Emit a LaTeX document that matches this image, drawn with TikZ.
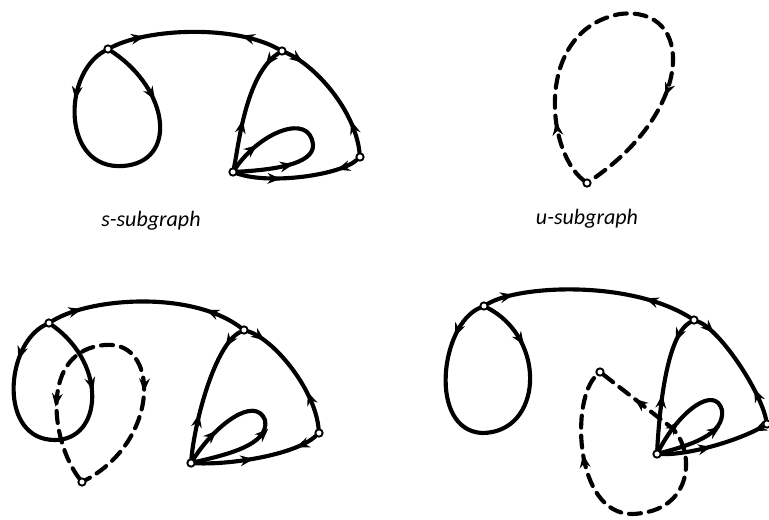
\documentclass[tikz,border=0pt]{standalone}
\usepackage{fontspec}
\setmainfont{Carlito}
\usetikzlibrary{arrows.meta,decorations.markings}
\pgfdeclarelayer{bg}
\pgfsetlayers{bg,main}
\tikzset{
  edge/.style={line width=3.1pt, line cap=round, line join=round},
  dsh/.style={edge, dash pattern=on 9pt off 6pt},
  af/.style={postaction={decorate,decoration={markings,
     mark=at position #1 with {\arrow[solid]{Stealth[length=10pt,width=8pt]}}}}},
  ab/.style={postaction={decorate,decoration={markings,
     mark=at position #1 with {\arrow[solid]{Stealth[length=10pt,width=8pt,reversed]}}}}},
  vtx/.style={circle, draw, fill=white, line width=1.4pt, inner sep=0pt, minimum size=5.5pt},
  lbl/.style={font=\fontsize{16.5}{20}\selectfont\itshape, inner sep=0pt}
}
\begin{document}
\begin{tikzpicture}[x=0.75pt,y=-0.75pt]
\useasboundingbox (0,0) rectangle (769,519);

% ---------- top-left: s-subgraph ----------
\node[vtx] (A1) at (108,49) {};
\node[vtx] (B1) at (282,51) {};
\node[vtx] (C1) at (233,172) {};
\node[vtx] (D1) at (360,157) {};
% ---------- top-right: u-subgraph ----------
\node[vtx] (U1) at (587,183) {};
% ---------- bottom-left ----------
\node[vtx] (A2) at (49,323) {};
\node[vtx] (B2) at (244,330) {};
\node[vtx] (C2) at (191,463) {};
\node[vtx] (D2) at (319,433) {};
\node[vtx] (U2) at (82,482) {};
% ---------- bottom-right ----------
\node[vtx] (A3) at (484,306) {};
\node[vtx] (B3) at (694,320) {};
\node[vtx] (C3) at (657,454) {};
\node[vtx] (D3) at (767,424) {};
\node[vtx] (U3) at (600,372) {};

\node[lbl, anchor=base] (sl) at (151,226) {s-subgraph};
\node[lbl, anchor=base] (ul) at (587,224) {u-subgraph};

\begin{pgfonlayer}{bg}
% top-left
\draw[edge,af=0.2,ab=0.85] (A1) .. controls (150,28) and (235,25) .. (B1);
\draw[edge,af=0.19,ab=0.83] (A1) .. controls (62,75) and (62,170) .. (123,166)
      .. controls (178,162) and (170,90) .. (A1);
\draw[edge,af=0.14,ab=0.72] (B1) .. controls (245,75) and (238,150) .. (C1);
\draw[edge,af=0.15,ab=0.85] (B1) .. controls (315,65) and (355,110) .. (D1);
\draw[edge,af=0.18,ab=0.75] (D1) .. controls (340,175) and (270,185) .. (C1);
\draw[edge,af=0.17,ab=0.77] (C1) .. controls (260,132) and (310,112) .. (313,145)
      .. controls (314,165) and (270,170) .. (C1);
% top-right
\draw[dsh,af=0.15,af=0.74] (U1) .. controls (545,150) and (535,30) .. (620,14)
      .. controls (695,5) and (695,110) .. (U1);
% bottom-left
\draw[edge,af=0.16,ab=0.87] (A2) .. controls (90,298) and (190,290) .. (B2);
\draw[edge,af=0.15,ab=0.78] (A2) .. controls (5,345) and (-2,440) .. (55,440)
      .. controls (102,440) and (108,365) .. (A2);
\draw[dsh,ab=0.26,af=0.68] (U2) .. controls (50,440) and (40,350) .. (105,345)
      .. controls (160,340) and (160,440) .. (U2);
\draw[edge,af=0.15,ab=0.77] (B2) .. controls (215,345) and (195,420) .. (C2);
\draw[edge,af=0.15,ab=0.8] (B2) .. controls (275,340) and (315,390) .. (D2);
\draw[edge,af=0.18,ab=0.64] (D2) .. controls (295,455) and (230,465) .. (C2);
\draw[edge,af=0.2,ab=0.63] (C2) .. controls (215,425) and (255,395) .. (265,420)
      .. controls (270,445) and (225,455) .. (C2);
% bottom-right
\draw[edge,af=0.13,ab=0.83] (A3) .. controls (520,285) and (630,280) .. (B3);
\draw[edge,af=0.12,ab=0.88] (A3) .. controls (440,325) and (428,430) .. (482,433)
      .. controls (542,433) and (548,340) .. (A3);
\draw[edge,af=0.18,ab=0.69] (B3) .. controls (668,335) and (660,400) .. (C3);
\draw[edge,af=0.16,ab=0.84] (B3) .. controls (720,330) and (760,390) .. (D3);
\draw[edge,af=0.1,ab=0.65] (D3) .. controls (740,440) and (690,455) .. (C3);
\draw[edge,af=0.2,ab=0.7] (C3) .. controls (680,410) and (715,385) .. (722,410)
      .. controls (725,435) and (690,445) .. (C3);
\draw[dsh,ab=0.14,af=0.78] (U3) -- (672,428) .. controls (695,450) and (695,512) .. (632,514)
      .. controls (575,514) and (570,400) .. (U3);
\end{pgfonlayer}
\end{tikzpicture}
\end{document}
